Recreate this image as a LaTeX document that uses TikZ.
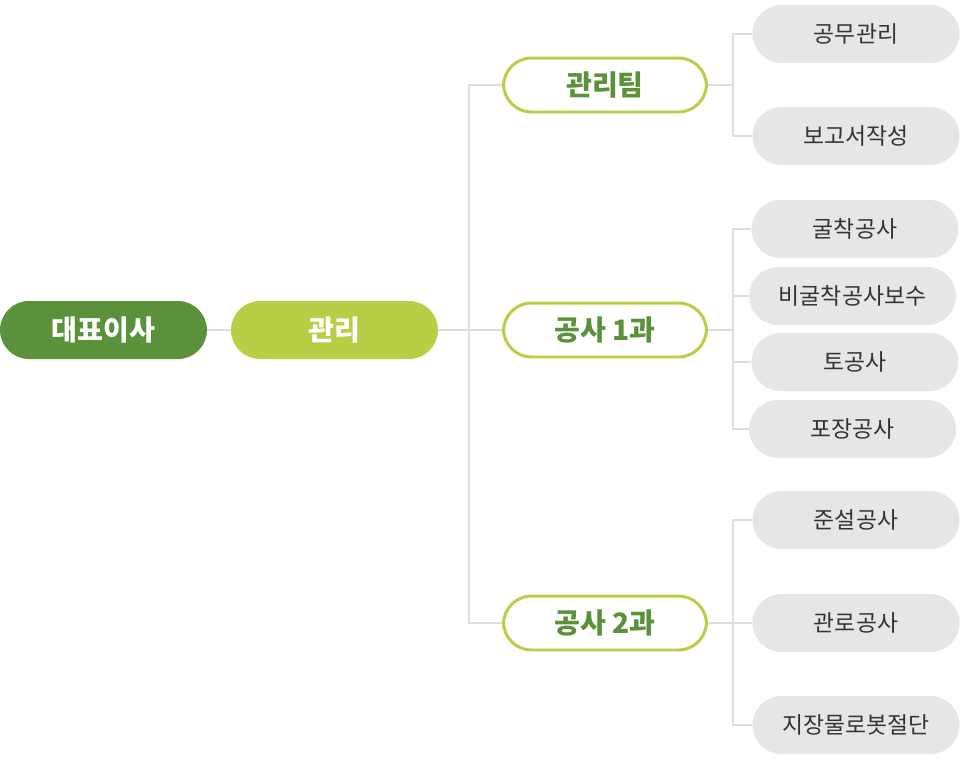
\documentclass[tikz,border=0pt]{standalone}
\usepackage{fontspec}
\setmainfont{Noto Sans CJK KR}
\usepackage{xcolor}
\usepackage{tikz}
\usetikzlibrary{positioning}

\definecolor{ceogreen}{HTML}{5B913B}
\definecolor{limegreen}{HTML}{B8CE46}
\definecolor{taskgray}{HTML}{E6E6E6}
\definecolor{linegray}{HTML}{DDDDDD}
\definecolor{textgray}{HTML}{333333}

\begin{document}
\begin{tikzpicture}[
            x=0.02cm, y=-0.02cm,
            head/.style={rectangle, rounded corners=0.58cm, minimum width=4.14cm, minimum height=1.16cm, inner sep=0pt, text=white, font=\fontsize{16}{18}\selectfont\bfseries},
            team/.style={rectangle, rounded corners=0.56cm, draw=limegreen, line width=1.7pt, fill=white, minimum width=4.06cm, minimum height=1.08cm, inner sep=0pt, text=ceogreen, font=\fontsize{16}{18}\selectfont\bfseries},
            task/.style={rectangle, rounded corners=0.58cm, fill=taskgray, minimum width=4.14cm, minimum height=1.16cm, inner sep=0pt, text=textgray, font=\fontsize{13}{15}\selectfont},
            link/.style={draw=linegray, line width=1.1pt}
        ]
            \useasboundingbox (0,0) rectangle (960,768);

            % left side
            \node[head, fill=ceogreen]  (ceo)  at (103.5,330) {대표이사};
            \node[head, fill=limegreen] (mgmt) at (334.5,330) {관리};

            % teams
            \node[team] (team1) at (605,85)  {관리팀};
            \node[team] (team2) at (605,330) {공사 1과};
            \node[team] (team3) at (605,623) {공사 2과};

            % tasks
            \node[task] (t11) at (856,34)  {공무관리};
            \node[task] (t12) at (856,136) {보고서작성};

            \node[task] (t21) at (855,229) {굴착공사};
            \node[task] (t22) at (852.5,296) {비굴착공사보수};
            \node[task] (t23) at (855,362) {토공사};
            \node[task] (t24) at (852.5,429) {포장공사};

            \node[task] (t31) at (856,520) {준설공사};
            \node[task] (t32) at (856,623) {관로공사};
            \node[task] (t33) at (856,725) {지장물로봇절단};

            \coordinate (trunk) at (469,330);
            \coordinate (b1) at (733,85);
            \coordinate (b2) at (733,330);
            \coordinate (b3) at (733,623);

            \draw[link] (ceo)  -- (mgmt);
            \draw[link] (mgmt) -- (trunk);
            \draw[link] (trunk) |- (team1);
            \draw[link] (trunk) -- (team2);
            \draw[link] (trunk) |- (team3);

            \draw[link] (team1) -- (b1);
            \draw[link] (b1) |- (t11);
            \draw[link] (b1) |- (t12);

            \draw[link] (team2) -- (b2);
            \draw[link] (b2) |- (t21);
            \draw[link] (b2) |- (t22);
            \draw[link] (b2) |- (t23);
            \draw[link] (b2) |- (t24);

            \draw[link] (team3) -- (b3);
            \draw[link] (b3) |- (t31);
            \draw[link] (b3) -- (t32);
            \draw[link] (b3) |- (t33);
        \end{tikzpicture}
\end{document}
